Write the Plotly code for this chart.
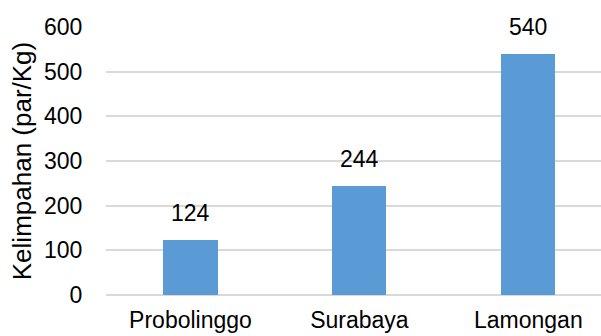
import plotly.graph_objects as go

categories = ["Probolinggo", "Surabaya", "Lamongan"]
values = [124, 244, 540]
y_ticks = [0, 100, 200, 300, 400, 500, 600]

BAR = "#5B9BD5"
GRID = "#D9D9D9"
FONT = "Liberation Sans, Arial, sans-serif"
FS = 23

fig = go.Figure()
fig.add_trace(go.Bar(
    x=categories, y=values, width=0.32,
    marker=dict(color=BAR, line=dict(width=0)),
    hoverinfo="skip",
))

for c, v in zip(categories, values):
    fig.add_annotation(x=c, y=v, text=str(v), showarrow=False,
                       yanchor="bottom", yshift=12,
                       font=dict(family=FONT, size=FS, color="#000000"))

fig.update_layout(
    width=601, height=336,
    margin=dict(l=106, r=0, t=27, b=41),
    paper_bgcolor="white", plot_bgcolor="white",
    showlegend=False,
    font=dict(family=FONT, size=FS, color="#000000"),
    bargap=0,
)
fig.update_xaxes(
    type="category", range=[-0.5, 2.43],
    showgrid=False, showline=False, zeroline=False,
    ticks="outside", ticklen=4, tickcolor="rgba(0,0,0,0)",
    tickfont=dict(family=FONT, size=FS, color="#000000"),
)
fig.update_yaxes(
    range=[0, 600], tickvals=y_ticks,
    showgrid=True, gridcolor=GRID, gridwidth=1.5,
    zeroline=True, zerolinecolor=GRID, zerolinewidth=1.5,
    showline=False,
    ticks="outside", ticklen=18, tickcolor="rgba(0,0,0,0)",
    tickfont=dict(family=FONT, size=FS, color="#000000"),
    title=dict(text="Kelimpahan (par/Kg)", standoff=4,
               font=dict(family=FONT, size=26, color="#000000")),
)

fig.write_html("out.html")
